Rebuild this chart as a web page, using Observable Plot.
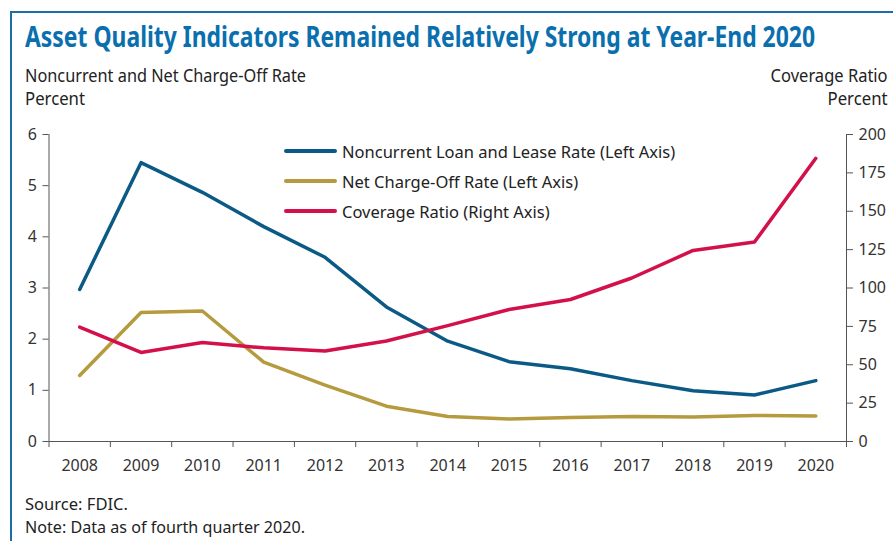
<!DOCTYPE html>
<html>
<head>
<meta charset="utf-8">
<script src="https://cdn.jsdelivr.net/npm/d3@7"></script>
<script src="https://cdn.jsdelivr.net/npm/@observablehq/plot@0.6"></script>
<style>
  html, body { margin: 0; padding: 0; background: #fff; }
  body { width: 893px; height: 541px; position: relative; overflow: hidden; font-family: "Noto Sans", sans-serif; color: #222; }
  .frame { position: absolute; left: 10px; top: 11px; width: 883px; height: 540px; border-left: 2px solid #1b6fa8; border-top: 2px solid #1b6fa8; }
  .fit { position: absolute; white-space: nowrap; }
  .title { left: 25px; top: 17px; font-size: 28px; font-weight: bold; color: #0a6fae; transform-origin: 0 0; }
  .lab { font-size: 18px; color: #222; }
  .left { left: 25px; transform-origin: 0 0; }
  .right { right: 5px; text-align: right; transform-origin: 100% 0; }
  .legend { position: absolute; left: 284px; top: 136px; font-family: "Noto Sans", sans-serif; font-size: 16.5px; color: #222; }
  .legend div { height: 30px; display: flex; align-items: center; }
  .legend span.sw { display: inline-block; width: 53px; height: 4px; border-radius: 2px; margin-right: 5px; }
  #chart { position: absolute; left: 0; top: 120px; }
  .note { left: 25px; font-size: 17px; color: #222; transform-origin: 0 0; }
</style>
</head>
<body>
<div class="frame"></div>
<div class="fit title" data-w="790">Asset Quality Indicators Remained Relatively Strong at Year-End 2020</div>
<div class="fit lab left" style="top:63px" data-w="281">Noncurrent and Net Charge-Off Rate</div>
<div class="fit lab left" style="top:86px" data-w="60">Percent</div>
<div class="fit lab right" style="top:63px" data-w="117">Coverage Ratio</div>
<div class="fit lab right" style="top:86px" data-w="60">Percent</div>
<div id="chart"></div>
<div class="legend" id="legend"></div>
<div class="fit note" style="top:492px" data-w="103">Source: FDIC.</div>
<div class="fit note" style="top:515px" data-w="280">Note: Data as of fourth quarter 2020.</div>
<script>
const years = [2008, 2009, 2010, 2011, 2012, 2013, 2014, 2015, 2016, 2017, 2018, 2019, 2020];
const noncurrentRate = [2.97, 5.45, 4.87, 4.20, 3.60, 2.63, 1.96, 1.56, 1.42, 1.19, 0.99, 0.91, 1.19];
const netChargeOffRate = [1.29, 2.52, 2.55, 1.55, 1.10, 0.69, 0.49, 0.44, 0.47, 0.49, 0.48, 0.51, 0.50];
const coverageRatio = [74.5, 58.0, 64.5, 61.0, 59.0, 65.5, 75.5, 86.0, 92.5, 106.5, 124.5, 130.0, 184.5];
const leftTicks = [0, 1, 2, 3, 4, 5, 6];
const rightTicks = [0, 25, 50, 75, 100, 125, 150, 175, 200];
const seriesNames = ["Noncurrent Loan and Lease Rate (Left Axis)", "Net Charge-Off Rate (Left Axis)", "Coverage Ratio (Right Axis)"];
const seriesColors = ["#0b5a86", "#b59a3e", "#d3104a"];

const leftMax = 6, rightMax = 200;
const toLeft = v => v * leftMax / rightMax;

const data = [];
years.forEach((y, i) => {
  data.push({year: y, value: noncurrentRate[i], series: seriesNames[0]});
  data.push({year: y, value: netChargeOffRate[i], series: seriesNames[1]});
  data.push({year: y, value: toLeft(coverageRatio[i]), series: seriesNames[2]});
});
const bounds = d3.range(years[0] - 0.5, years[years.length - 1] + 1, 1);

const chart = Plot.plot({
  width: 893,
  height: 366,
  marginLeft: 48.5,
  marginRight: 47,
  marginTop: 14,
  marginBottom: 45,
  style: {fontFamily: "'Noto Sans', sans-serif", fontSize: "15px", color: "#333", background: "transparent"},
  x: {type: "linear", domain: [bounds[0], bounds[bounds.length - 1]]},
  y: {domain: [0, leftMax]},
  color: {domain: seriesNames, range: seriesColors},
  marks: [
    Plot.ruleX([bounds[0], bounds[bounds.length - 1]], {stroke: "#555", strokeWidth: 1}),
    Plot.ruleY([0], {stroke: "#555", strokeWidth: 1}),
    Plot.axisY(leftTicks, {anchor: "left", tickSize: 6, tickPadding: 6, stroke: "#555", label: null, fontSize: 16, tickFormat: d => String(d)}),
    Plot.axisY(rightTicks.map(toLeft), {anchor: "right", tickSize: 6, tickPadding: 6, stroke: "#555", label: null, fontSize: 16, tickFormat: d => String(Math.round(d * rightMax / leftMax))}),
    Plot.axisX(bounds, {anchor: "bottom", tickSize: 6, stroke: "#555", tickFormat: () => "", label: null}),
    Plot.axisX(years, {anchor: "bottom", tickSize: 0, tickPadding: 18, tickFormat: d => String(d), label: null, fontSize: 16}),
    Plot.line(data, {x: "year", y: "value", z: "series", stroke: "series", strokeWidth: 3.5, strokeLinejoin: "round", strokeLinecap: "round"})
  ]
});
document.getElementById("chart").appendChild(chart);

const legend = document.getElementById("legend");
seriesNames.forEach((n, i) => {
  const row = document.createElement("div");
  const sw = document.createElement("span");
  sw.className = "sw";
  sw.style.background = seriesColors[i];
  row.appendChild(sw);
  row.appendChild(document.createTextNode(n));
  legend.appendChild(row);
});

document.querySelectorAll(".fit").forEach(el => {
  const target = +el.dataset.w;
  const w = el.getBoundingClientRect().width;
  if (w > 0) el.style.transform = `scaleX(${target / w})`;
});
</script>
</body>
</html>
